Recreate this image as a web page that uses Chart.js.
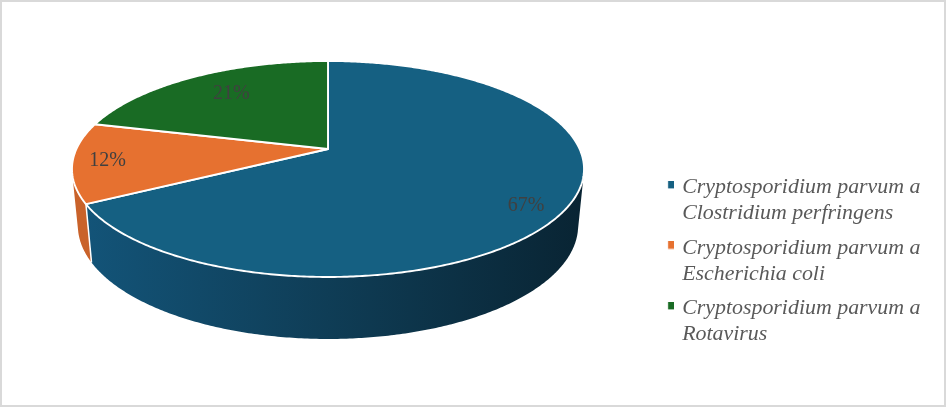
<!DOCTYPE html>
<html>
<head>
<meta charset="utf-8">
<style>
html,body{margin:0;padding:0;background:#fff;overflow:hidden}
canvas{display:block;outline:2px solid #d9d9d9;outline-offset:-2px}
</style>
<script src="https://cdn.jsdelivr.net/npm/chart.js@4"></script>
</head>
<body>
<canvas id="c" width="946" height="407"></canvas>
<script>
const categories = [
  ["Cryptosporidium parvum a", "Clostridium perfringens"],
  ["Cryptosporidium parvum a", "Escherichia coli"],
  ["Cryptosporidium parvum a", "Rotavirus"]
];
const values = [67, 12, 21];
const topColors = ["#156082", "#E67130", "#196B24"];
const wallColors = ["#156082", "#C9622A", "#14561D"];
const labelNudge = [[-2, 8], [-4, 0], [20, 7.5]];

// perspective view of the disc: angles come from the library's arc elements
const view = {cx: 328, cy: 149, a: 251.6, b: 104.3, k: 0.185,
  lowCy: 204.6, lowX: 0.977, lowY: 1.05};

function project(theta, r) {
  const s = Math.sin(theta) * r, t = -Math.cos(theta) * r, d = 1 - view.k * t;
  return {x: view.a * s / d, y: view.b * t / d};
}
const topPt = (th, r = 1) => { const p = project(th, r); return [view.cx + p.x, view.cy + p.y]; };
const lowPt = th => { const p = project(th, 1); return [view.cx + p.x * view.lowX, view.lowCy + p.y * view.lowY]; };
function arcPts(fn, a, b) {
  const n = Math.max(2, Math.ceil(Math.abs(b - a) / 0.01)), pts = [];
  for (let i = 0; i <= n; i++) pts.push(fn(a + (b - a) * i / n));
  return pts;
}
function trace(ctx, pts, close) {
  ctx.beginPath();
  pts.forEach((p, i) => i ? ctx.lineTo(p[0], p[1]) : ctx.moveTo(p[0], p[1]));
  if (close) ctx.closePath();
}
function signedArea(q) {
  let s = 0;
  q.forEach((p, i) => { const n = q[(i + 1) % q.length]; s += p[0] * n[1] - n[0] * p[1]; });
  return s;
}
function legendSwatch(color) {
  const c = document.createElement("canvas");
  c.width = 12; c.height = 13;
  const g = c.getContext("2d");
  g.fillStyle = color;
  g.fillRect(5.9, 0, 6.1, 7.4);
  return c;
}

const pie3d = {
  id: "pie3d",
  beforeDatasetsDraw(chart) {
    const ctx = chart.ctx, arcs = chart.getDatasetMeta(0).data;
    const angle = el => [el.startAngle + Math.PI / 2, el.endAngle + Math.PI / 2];
    ctx.save();
    const grad = ctx.createLinearGradient(72, 0, 584, 0);
    grad.addColorStop(0, "#13557a");
    grad.addColorStop(0.5, "#0f3d56");
    grad.addColorStop(1, "#092433");
    // side walls, back to front: one path of equally wound quads, so no seams
    [2, 1, 0].forEach(i => {
      const [a, b] = angle(arcs[i]);
      const up = arcPts(topPt, a, b), low = arcPts(lowPt, a, b);
      ctx.fillStyle = i === 0 ? grad : wallColors[i];
      ctx.beginPath();
      for (let j = 0; j < up.length - 1; j++) {
        let q = [up[j], up[j + 1], low[j + 1], low[j]];
        if (signedArea(q) < 0) q = q.reverse();
        q.forEach((p, n) => n ? ctx.lineTo(p[0], p[1]) : ctx.moveTo(p[0], p[1]));
        ctx.closePath();
      }
      ctx.fill();
    });
    // white seam between the front walls
    const seam = angle(arcs[0])[1];
    ctx.strokeStyle = "#fff";
    ctx.lineWidth = 1.5;
    trace(ctx, [topPt(seam), lowPt(seam)]);
    ctx.stroke();
    // top faces
    arcs.forEach((el, i) => {
      const [a, b] = angle(el);
      const pts = [[view.cx, view.cy]].concat(arcPts(topPt, a, b));
      ctx.fillStyle = topColors[i];
      trace(ctx, pts, true);
      ctx.fill();
      ctx.strokeStyle = "#fff";
      ctx.lineWidth = 1.9;
      ctx.lineJoin = "round";
      ctx.stroke();
    });
    // percentage labels
    ctx.font = '20px "Liberation Serif"';
    ctx.fillStyle = "#404040";
    ctx.textAlign = "center";
    ctx.textBaseline = "middle";
    arcs.forEach((el, i) => {
      const [a, b] = angle(el);
      const p = topPt((a + b) / 2, 0.85);
      ctx.fillText(values[i] + "%", p[0] + labelNudge[i][0], p[1] + labelNudge[i][1]);
    });
    ctx.restore();
    return false;
  }
};

new Chart(document.getElementById("c"), {
  type: "pie",
  data: {
    labels: categories,
    datasets: [{data: values, backgroundColor: topColors, borderColor: "#fff"}]
  },
  plugins: [pie3d],
  options: {
    responsive: false,
    animation: false,
    events: [],
    layout: {padding: {top: 119, right: 15.5}},
    plugins: {
      tooltip: {enabled: false},
      legend: {
        position: "right",
        labels: {
          usePointStyle: true,
          boxHeight: 6,
          pointStyleWidth: 6,
          padding: 8.5,
          color: "#595959",
          font: {family: '"Liberation Serif"', size: 21.9, style: "italic", lineHeight: "26px"},
          generateLabels(chart) {
            const items = Chart.overrides.pie.plugins.legend.labels.generateLabels(chart);
            items.forEach((it, i) => { it.pointStyle = legendSwatch(topColors[i]); });
            return items;
          }
        }
      }
    }
  }
});
</script>
</body>
</html>
